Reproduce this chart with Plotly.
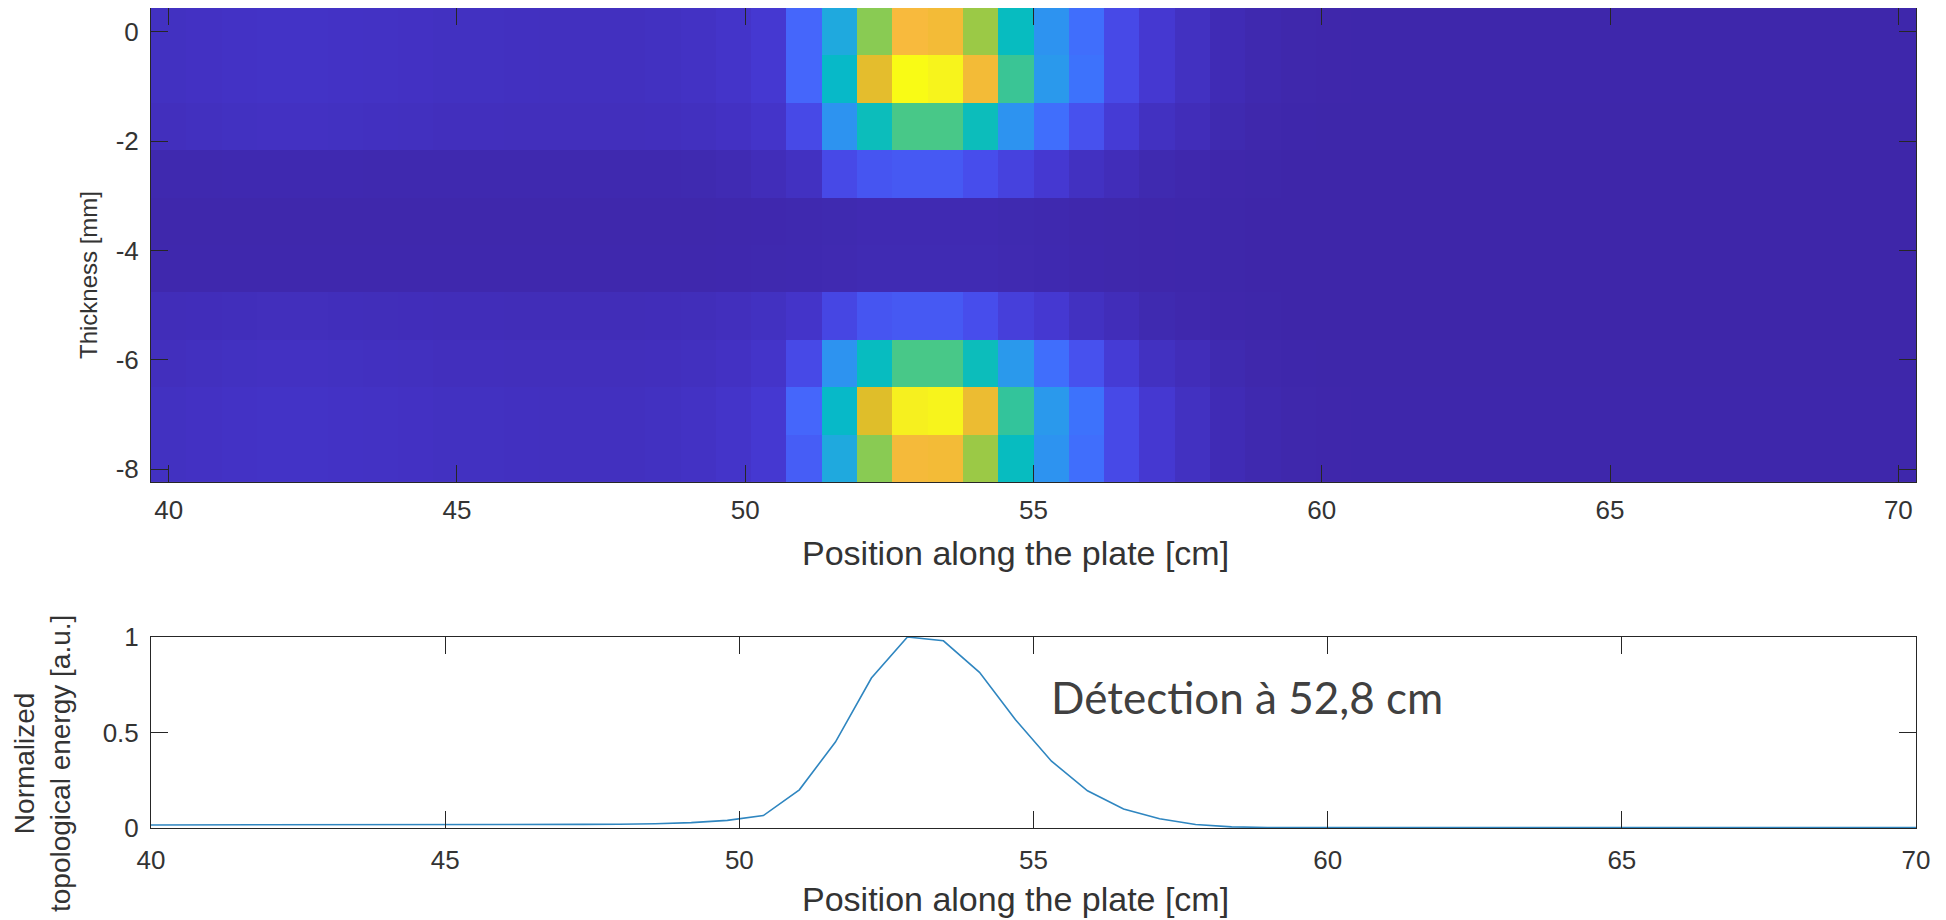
import plotly.graph_objects as go

# ---------------- data ----------------
position_cm = [40.000, 40.612, 41.224, 41.837, 42.449, 43.061, 43.673, 44.286, 44.898, 45.510,
               46.122, 46.735, 47.347, 47.959, 48.571, 49.184, 49.796, 50.408, 51.020, 51.633,
               52.245, 52.857, 53.469, 54.082, 54.694, 55.306, 55.918, 56.531, 57.143, 57.755,
               58.367, 58.980, 59.592, 60.204, 60.816, 61.429, 62.041, 62.653, 63.265, 63.878,
               64.490, 65.102, 65.714, 66.327, 66.939, 67.551, 68.163, 68.776, 69.388, 70.000]

thickness_mm = [0.0, -0.867, -1.733, -2.6, -3.467, -4.333, -5.2, -6.067, -6.933, -7.8]

# topological energy image, one list per thickness row (50 positions each)
row_0 = [0.030, 0.032, 0.035, 0.036, 0.036, 0.035, 0.034, 0.032, 0.030, 0.030,
         0.029, 0.028, 0.028, 0.028, 0.030, 0.034, 0.040, 0.050, 0.170, 0.380,
         0.660, 0.840, 0.820, 0.680, 0.470, 0.300, 0.190, 0.100, 0.050, 0.030,
         0.015, 0.008, 0.005, 0.004, 0.003, 0.003, 0.003, 0.003, 0.003, 0.003,
         0.003, 0.003, 0.003, 0.003, 0.003, 0.003, 0.003, 0.003, 0.003, 0.003]
row_1 = [0.030, 0.032, 0.035, 0.036, 0.036, 0.035, 0.034, 0.032, 0.030, 0.030,
         0.029, 0.028, 0.028, 0.028, 0.030, 0.034, 0.040, 0.050, 0.170, 0.450,
         0.780, 1.000, 0.980, 0.820, 0.560, 0.320, 0.200, 0.100, 0.050, 0.030,
         0.015, 0.008, 0.005, 0.004, 0.003, 0.003, 0.003, 0.003, 0.003, 0.003,
         0.003, 0.003, 0.003, 0.003, 0.003, 0.003, 0.003, 0.003, 0.003, 0.003]
row_2 = [0.025, 0.027, 0.030, 0.031, 0.031, 0.030, 0.029, 0.027, 0.025, 0.025,
         0.024, 0.024, 0.024, 0.024, 0.025, 0.028, 0.032, 0.040, 0.100, 0.300,
         0.480, 0.580, 0.580, 0.480, 0.300, 0.190, 0.120, 0.060, 0.030, 0.020,
         0.010, 0.005, 0.003, 0.002, 0.002, 0.002, 0.002, 0.002, 0.002, 0.002,
         0.002, 0.002, 0.002, 0.002, 0.002, 0.002, 0.002, 0.002, 0.002, 0.002]
row_3 = [0.008, 0.008, 0.009, 0.009, 0.009, 0.009, 0.008, 0.008, 0.008, 0.008,
         0.008, 0.008, 0.008, 0.008, 0.008, 0.010, 0.013, 0.020, 0.030, 0.100,
         0.130, 0.140, 0.140, 0.110, 0.080, 0.050, 0.030, 0.020, 0.010, 0.006,
         0.004, 0.002, 0.001, 0.001, 0.001, 0.001, 0.001, 0.001, 0.001, 0.001,
         0.001, 0.001, 0.001, 0.001, 0.001, 0.001, 0.001, 0.001, 0.001, 0.001]
row_4 = [0.005, 0.005, 0.005, 0.005, 0.005, 0.005, 0.005, 0.005, 0.005, 0.005,
         0.005, 0.005, 0.005, 0.005, 0.005, 0.005, 0.006, 0.007, 0.008, 0.010,
         0.012, 0.012, 0.012, 0.012, 0.010, 0.008, 0.006, 0.005, 0.004, 0.003,
         0.002, 0.001, 0.001, 0.001, 0.001, 0.001, 0.001, 0.001, 0.001, 0.001,
         0.001, 0.001, 0.001, 0.001, 0.001, 0.001, 0.001, 0.001, 0.001, 0.001]
row_5 = [0.006, 0.006, 0.006, 0.006, 0.006, 0.006, 0.006, 0.006, 0.006, 0.006,
         0.006, 0.006, 0.006, 0.006, 0.006, 0.006, 0.007, 0.008, 0.009, 0.011,
         0.013, 0.013, 0.013, 0.013, 0.011, 0.009, 0.007, 0.005, 0.004, 0.003,
         0.002, 0.001, 0.001, 0.001, 0.001, 0.001, 0.001, 0.001, 0.001, 0.001,
         0.001, 0.001, 0.001, 0.001, 0.001, 0.001, 0.001, 0.001, 0.001, 0.001]
row_6 = [0.020, 0.021, 0.023, 0.024, 0.024, 0.023, 0.022, 0.021, 0.020, 0.020,
         0.019, 0.019, 0.019, 0.019, 0.020, 0.022, 0.025, 0.030, 0.040, 0.090,
         0.130, 0.140, 0.140, 0.110, 0.070, 0.050, 0.030, 0.020, 0.010, 0.006,
         0.004, 0.002, 0.001, 0.001, 0.001, 0.001, 0.001, 0.001, 0.001, 0.001,
         0.001, 0.001, 0.001, 0.001, 0.001, 0.001, 0.001, 0.001, 0.001, 0.001]
row_7 = [0.025, 0.027, 0.030, 0.031, 0.031, 0.030, 0.029, 0.027, 0.025, 0.025,
         0.024, 0.024, 0.024, 0.024, 0.025, 0.028, 0.032, 0.040, 0.100, 0.300,
         0.470, 0.580, 0.580, 0.480, 0.320, 0.190, 0.120, 0.060, 0.030, 0.020,
         0.010, 0.005, 0.003, 0.002, 0.002, 0.002, 0.002, 0.002, 0.002, 0.002,
         0.002, 0.002, 0.002, 0.002, 0.002, 0.002, 0.002, 0.002, 0.002, 0.002]
row_8 = [0.030, 0.032, 0.035, 0.036, 0.036, 0.035, 0.034, 0.032, 0.030, 0.030,
         0.029, 0.028, 0.028, 0.028, 0.030, 0.034, 0.040, 0.050, 0.170, 0.450,
         0.770, 0.970, 0.980, 0.800, 0.550, 0.320, 0.200, 0.100, 0.050, 0.030,
         0.015, 0.008, 0.005, 0.004, 0.003, 0.003, 0.003, 0.003, 0.003, 0.003,
         0.003, 0.003, 0.003, 0.003, 0.003, 0.003, 0.003, 0.003, 0.003, 0.003]
row_9 = [0.030, 0.032, 0.035, 0.036, 0.036, 0.035, 0.034, 0.032, 0.030, 0.030,
         0.029, 0.028, 0.028, 0.028, 0.030, 0.034, 0.040, 0.050, 0.150, 0.380,
         0.660, 0.830, 0.820, 0.680, 0.470, 0.300, 0.190, 0.100, 0.050, 0.030,
         0.015, 0.008, 0.005, 0.004, 0.003, 0.003, 0.003, 0.003, 0.003, 0.003,
         0.003, 0.003, 0.003, 0.003, 0.003, 0.003, 0.003, 0.003, 0.003, 0.003]

# normalized topological energy along the plate
energy = [0.016, 0.016, 0.017, 0.017, 0.017, 0.017, 0.017, 0.017, 0.017, 0.017,
          0.018, 0.018, 0.019, 0.020, 0.022, 0.028, 0.040, 0.065, 0.200, 0.450,
          0.785, 1.000, 0.980, 0.815, 0.567, 0.350, 0.195, 0.100, 0.048, 0.018,
          0.006, 0.003, 0.002, 0.002, 0.002, 0.002, 0.002, 0.002, 0.002, 0.002,
          0.002, 0.002, 0.002, 0.002, 0.002, 0.002, 0.002, 0.002, 0.002, 0.002]

x_ticks = [40, 45, 50, 55, 60, 65, 70]
x_tick_labels = ["40", "45", "50", "55", "60", "65", "70"]
y_ticks_top = [0, -2, -4, -6, -8]
y_tick_labels_top = ["0", "-2", "-4", "-6", "-8"]
y_ticks_bottom = [0, 0.5, 1]
y_tick_labels_bottom = ["0", "0.5", "1"]
annotation_text = "Détection à 52,8 cm"

# ---------------- style ----------------
parula = [
    [0.000, "rgb(62,38,168)"], [0.048, "rgb(69,55,208)"], [0.111, "rgb(71,77,236)"],
    [0.175, "rgb(69,104,252)"], [0.238, "rgb(50,128,253)"], [0.302, "rgb(45,148,240)"],
    [0.365, "rgb(35,165,226)"], [0.429, "rgb(18,180,208)"], [0.460, "rgb(2,187,196)"],
    [0.508, "rgb(25,191,175)"], [0.556, "rgb(55,197,152)"], [0.619, "rgb(100,204,111)"],
    [0.667, "rgb(143,203,78)"], [0.714, "rgb(185,196,49)"], [0.762, "rgb(220,190,40)"],
    [0.810, "rgb(240,187,52)"], [0.841, "rgb(248,186,61)"], [0.873, "rgb(254,196,57)"],
    [0.921, "rgb(249,220,43)"], [0.968, "rgb(246,239,32)"], [1.000, "rgb(249,251,21)"],
]

# the page body has an 8 px margin: size the figure so it ends at the window edge
OFF = 8
W, H = 1946 - OFF, 920 - OFF
FONT = "Liberation Sans, Arial, Helvetica, sans-serif"
TXT = "#333333"
AX = "#262626"

def px(x):
    return (x - OFF) / W

def py(y):
    return 1 - (y - OFF) / H

top_l, top_r, top_t, top_b = 151, 1916, 7.5, 482
bot_t, bot_b = 637, 828

fig = go.Figure()
fig.add_trace(go.Heatmap(
    x=position_cm, y=thickness_mm,
    z=[row_0, row_1, row_2, row_3, row_4, row_5, row_6, row_7, row_8, row_9],
    colorscale=parula, zmin=0, zmax=1, showscale=False, zsmooth=False,
    xaxis="x", yaxis="y", hoverinfo="skip",
))
fig.add_trace(go.Scatter(
    x=position_cm, y=energy, mode="lines",
    line=dict(color="#2f86c0", width=1.6),
    xaxis="x2", yaxis="y2", showlegend=False,
))

axis_common = dict(
    showline=True, linecolor=AX, linewidth=1, mirror="ticks",
    ticks="inside", ticklen=17, tickwidth=1, tickcolor=AX,
    showgrid=False, zeroline=False, automargin=False,
    tickfont=dict(family=FONT, size=26, color=TXT),
)

fig.update_layout(
    width=W, height=H,
    margin=dict(l=0, r=0, t=0, b=0, pad=0),
    paper_bgcolor="white", plot_bgcolor="white",
    showlegend=False,
    xaxis=dict(domain=[px(top_l), px(top_r)], anchor="y",
               range=[39.694, 70.306], tickvals=x_ticks, ticktext=x_tick_labels,
               ticklabelstandoff=5, **axis_common),
    yaxis=dict(domain=[py(top_b), min(1.0, py(top_t))], anchor="x",
               range=[-8.233, 0.433], tickvals=y_ticks_top, ticktext=y_tick_labels_top,
               ticklabelstandoff=6, **axis_common),
    xaxis2=dict(domain=[px(top_l), px(top_r)], anchor="y2",
                range=[40, 70], tickvals=x_ticks, ticktext=x_tick_labels,
                ticklabelstandoff=9, **axis_common),
    yaxis2=dict(domain=[py(bot_b), py(bot_t)], anchor="x2",
                range=[0, 1], tickvals=y_ticks_bottom, ticktext=y_tick_labels_bottom,
                ticklabelstandoff=6, **axis_common),
)

title_font = dict(family=FONT, size=34, color=TXT)
fig.add_annotation(text="Position along the plate [cm]", xref="paper", yref="paper",
                   x=px(1015), y=py(553), showarrow=False, font=title_font,
                   xanchor="center", yanchor="middle")
fig.add_annotation(text="Position along the plate [cm]", xref="paper", yref="paper",
                   x=px(1015), y=py(899), showarrow=False, font=title_font,
                   xanchor="center", yanchor="middle")
fig.add_annotation(text="Thickness [mm]", xref="paper", yref="paper",
                   x=px(88), y=py(275), showarrow=False, textangle=-90,
                   font=dict(family=FONT, size=24, color=TXT),
                   xanchor="center", yanchor="middle")
fig.add_annotation(text="Normalized<br>topological energy [a.u.]", xref="paper", yref="paper",
                   x=px(42), y=py(764), showarrow=False, textangle=-90,
                   font=dict(family=FONT, size=28, color=TXT),
                   xanchor="center", yanchor="middle")
fig.add_annotation(text=annotation_text, xref="paper", yref="paper",
                   x=px(1049), y=py(697), showarrow=False,
                   font=dict(family="Lato, Open Sans, sans-serif", size=44, color="#404040"),
                   xanchor="left", yanchor="middle")

fig.write_html("out.html")
